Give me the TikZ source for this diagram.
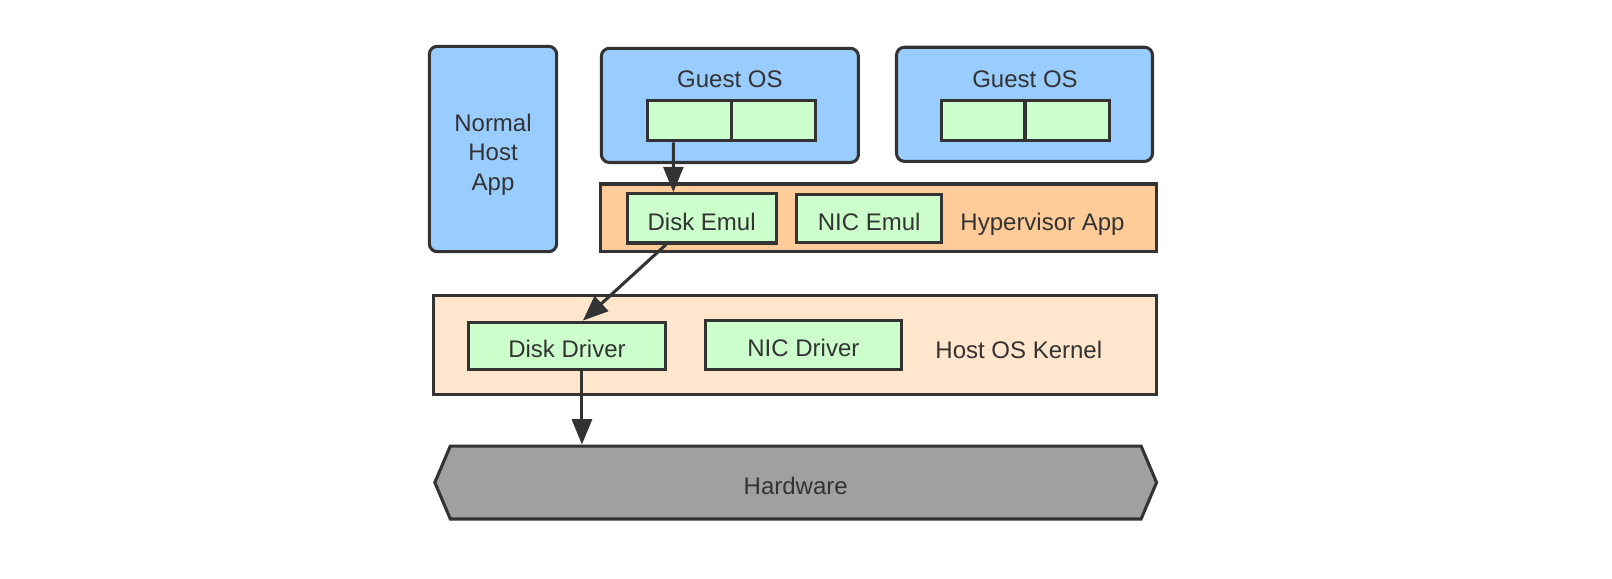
\documentclass[tikz,border=0pt]{standalone}
\usepackage{fontspec}
\setmainfont{Liberation Sans}
\usetikzlibrary{arrows.meta,shapes.symbols}
\definecolor{lineGray}{HTML}{333333}
\definecolor{appBlue}{HTML}{99CCFF}
\definecolor{partGreen}{HTML}{CCFFCC}
\definecolor{hyperOrange}{HTML}{FFCC99}
\definecolor{kernelPeach}{HTML}{FFE6CC}
\definecolor{hwGray}{HTML}{A0A0A0}
\begin{document}
\begin{tikzpicture}[x=0.75pt,y=0.75pt,yscale=-1,xscale=1,
  box/.style={draw=lineGray, line width=2.3pt, text=lineGray, inner sep=0pt,
    font=\fontsize{18}{22.4}\selectfont, align=center},
  app/.style={box, fill=appBlue, rounded corners=6pt},
  part/.style={box, fill=partGreen, text height=18pt, text depth=0pt},
  caption/.style={text=lineGray, font=\fontsize{18}{22.4}\selectfont, anchor=base},
  link/.style={draw=lineGray, line width=2.3pt, -{Triangle[length=19pt,width=15pt]}}]

\useasboundingbox (0, 0) rectangle (1612, 578);

%%%%%%%%%%%%%%%%%%%%%%%%%%%%%%%%%%%%%%%%%%%%%%%%%%%%%%%%%%%%%%%%%%%%%%%%

\node (hostapp) at (493, 149) [app, minimum width=95.5pt, minimum height=154pt,
  text height=62.6pt, text depth=0pt] {Normal\\Host\\App};

\node (guestA) at (729.9, 105.4) [app, minimum width=192.8pt, minimum height=85.6pt] {};
\node (guestAtxt) at (729.9, 87.7) [caption] {Guest OS};
\node (guestAl) at (689.8, 120.8) [part, minimum width=63.2pt, minimum height=30.1pt] {};
\node (guestAr) at (773.6, 120.8) [part, minimum width=63.2pt, minimum height=30.1pt] {};

\node (guestB) at (1024.5, 104.3) [app, minimum width=192pt, minimum height=85.6pt] {};
\node (guestBtxt) at (1025, 87.7) [caption] {Guest OS};
\node (guestBl) at (983.3, 120.3) [part, minimum width=63.2pt, minimum height=30.1pt] {};
\node (guestBr) at (1067.1, 120.3) [part, minimum width=63.2pt, minimum height=30.1pt] {};

%%%%%%%%%%%%%%%%%%%%%%%%%%%%%%%%%%%%%%%%%%%%%%%%%%%%%%%%%%%%%%%%%%%%%%%%

\node (hyper) at (878.5, 217.9) [box, fill=hyperOrange, minimum width=417.1pt, minimum height=50.9pt] {};
\node (diskemul) at (701.6, 218.3) [part, minimum width=111.8pt, minimum height=37pt] {Disk Emul};
\node (nicemul) at (869.2, 218.5) [part, minimum width=108.7pt, minimum height=36.2pt] {NIC Emul};
\node (hypertxt) at (1042.5, 230) [caption] {Hypervisor App};

%%%%%%%%%%%%%%%%%%%%%%%%%%%%%%%%%%%%%%%%%%%%%%%%%%%%%%%%%%%%%%%%%%%%%%%%

\node (kernel) at (795.2, 344.9) [box, fill=kernelPeach, minimum width=542pt, minimum height=74.8pt] {};
\node (diskdrv) at (567, 345.8) [part, minimum width=147.3pt, minimum height=35.5pt] {Disk Driver};
\node (nicdrv) at (803.4, 344.9) [part, minimum width=147.3pt, minimum height=37pt] {NIC Driver};
\node (kerneltxt) at (1018.8, 358.3) [caption] {Host OS Kernel};

\node (hardware) at (795.7, 482.5) [box, fill=hwGray, shape=signal, signal to=west and east,
  signal pointer angle=134, minimum width=541.3pt, minimum height=54.7pt,
  text height=18pt, text depth=0pt] {Hardware};

%%%%%%%%%%%%%%%%%%%%%%%%%%%%%%%%%%%%%%%%%%%%%%%%%%%%%%%%%%%%%%%%%%%%%%%%

\draw [link] ([xshift=-12.3pt]guestAl.south) -- ([xshift=-21.2pt]diskemul.north);
\draw [link] ([xshift=-26.6pt]diskemul.south) -- ([xshift=11.9pt]diskdrv.north);
\draw [link] ([xshift=11.2pt]diskdrv.south) -- ([xshift=11.2pt]diskdrv.south |- hardware.north);

%%%%%%%%%%%%%%%%%%%%%%%%%%%%%%%%%%%%%%%%%%%%%%%%%%%%%%%%%%%%%%%%%%%%%%%%

\end{tikzpicture}
\end{document}
